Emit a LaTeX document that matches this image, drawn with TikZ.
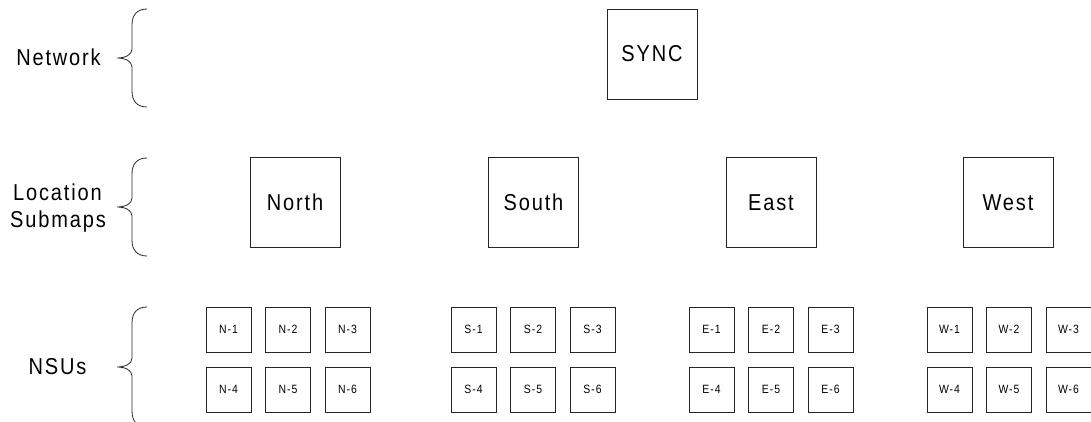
\documentclass[tikz,border=0pt]{standalone}
\usepackage{fontspec}
\setmainfont{Liberation Sans}[LetterSpace=8, FakeStretch=0.87]
\begin{document}
\begin{tikzpicture}[x=1pt,y=-1pt,
  line width=0.8pt,
  bigbox/.style={draw=black!85, rectangle, minimum width=90pt, minimum height=90pt, inner sep=0pt, font=\fontsize{23}{27}\selectfont},
  smallbox/.style={draw=black!85, rectangle, minimum width=45pt, minimum height=45pt, inner sep=0pt, font=\fontsize{12}{14}\selectfont},
  lbl/.style={anchor=base, inner sep=0pt, font=\fontsize{23}{27}\selectfont},
  pics/mybrace/.style={code={
    \draw[black!85, line width=0.8pt] (30,-#1) .. controls (20,-#1) and (15,-#1+6) .. (15,-#1+16) -- (15,-9)
      .. controls (15,-3) and (8,0) .. (0,0) .. controls (8,0) and (15,3) .. (15,9)
      -- (15,#1-16) .. controls (15,#1-6) and (20,#1) .. (30,#1);
  }}]
\useasboundingbox (0,0) rectangle (1091,421);
\clip (0,0) rectangle (1091,421);

% labels
\node[lbl] (lnet) at (58.5,65) {Network};
\node[lbl] (lloc) at (57.5,200) {Location};
\node[lbl] (lsub) at (58,227) {Submaps};
\node[lbl] (lnsu) at (57.5,374) {NSUs};

% braces
\pic at (117,58) {mybrace=49};
\pic at (117,207) {mybrace=49};
\pic at (117,367) {mybrace=60};

% network
\node[bigbox] (sync) at (652,54) {SYNC};

% submaps
\node[bigbox] (north) at (295,202.5) {North};
\node[bigbox] (south) at (533.5,202.5) {South};
\node[bigbox] (east) at (771,202.5) {East};
\node[bigbox] (west) at (1008,202.5) {West};

% NSUs
\foreach \p/\x in {N/228.5, S/473.5, E/711.5, W/949.5}{
  \node[smallbox] (\p1) at (\x,329.5) {\p-1};
  \node[smallbox] (\p2) at (\x+59.5,329.5) {\p-2};
  \node[smallbox] (\p3) at (\x+119,329.5) {\p-3};
  \node[smallbox] (\p4) at (\x,389.5) {\p-4};
  \node[smallbox] (\p5) at (\x+59.5,389.5) {\p-5};
  \node[smallbox] (\p6) at (\x+119,389.5) {\p-6};
}
\end{tikzpicture}
\end{document}
